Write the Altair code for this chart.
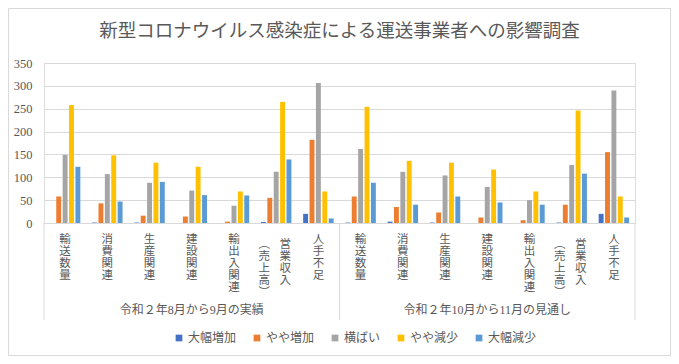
import altair as alt
import pandas as pd

title_text = "新型コロナウイルス感染症による運送事業者への影響調査"
groups = ["令和２年8月から9月の実績", "令和２年10月から11月の見通し"]
categories = ["輸送数量", "消費関連", "生産関連", "建設関連", "輸出入関連", "営業収入（売上高）", "人手不足"]
series = ["大幅増加", "やや増加", "横ばい", "やや減少", "大幅減少"]
colors = ["#4472C4", "#ED7D31", "#A5A5A5", "#FFC000", "#5B9BD5"]

# 令和２年8月から9月の実績
g1_dai_zou = [0, 1, 1, 0, 0, 2, 20]
g1_yaya_zou = [58, 43, 16, 14, 3, 55, 182]
g1_yokobai = [149, 107, 88, 71, 38, 112, 306]
g1_yaya_gen = [258, 148, 132, 123, 69, 265, 69]
g1_dai_gen = [123, 47, 90, 61, 60, 139, 10]

# 令和２年10月から11月の見通し
g2_dai_zou = [1, 3, 1, 0, 0, 1, 20]
g2_yaya_zou = [58, 35, 23, 12, 6, 40, 155]
g2_yokobai = [162, 112, 104, 79, 50, 127, 290]
g2_yaya_gen = [254, 136, 132, 117, 69, 246, 58]
g2_dai_gen = [88, 40, 58, 45, 40, 108, 12]

group_values = [
    [g1_dai_zou, g1_yaya_zou, g1_yokobai, g1_yaya_gen, g1_dai_gen],
    [g2_dai_zou, g2_yaya_zou, g2_yokobai, g2_yaya_gen, g2_dai_gen],
]

def key(gi, cat):
    return f"{gi}|{cat}"

keys = [key(gi, c) for gi in range(len(groups)) for c in categories]

rows = []
for gi, g in enumerate(groups):
    for si, s in enumerate(series):
        for ci, c in enumerate(categories):
            rows.append({"key": key(gi, c), "group": g, "category": c,
                         "series": s, "value": group_values[gi][si][ci]})
df = pd.DataFrame(rows)

# vertical (tategaki) label columns
def vert(t):
    return "\n".join(list(t))

main_cols, right_cols, left_cols = [], [], []
for gi in range(len(groups)):
    for c in categories:
        if "（" in c:
            head, rest = c.split("（")
            right_cols.append({"key": key(gi, c), "text": vert(head)})
            left_cols.append({"key": key(gi, c), "text": vert("︵" + rest.rstrip("）") + "︶")})
        else:
            main_cols.append({"key": key(gi, c), "text": vert(c)})
main_df = pd.DataFrame(main_cols)
right_df = pd.DataFrame(right_cols)
left_df = pd.DataFrame(left_cols)

group_df = pd.DataFrame([{"key": key(gi, categories[3]), "text": g} for gi, g in enumerate(groups)])
sep_start_df = pd.DataFrame([{"key": key(gi, categories[0])} for gi in range(len(groups))])
sep_end_df = pd.DataFrame([{"key": key(len(groups) - 1, categories[-1])}])

W, H = 591, 160
TXT = "#595959"
GRID = "#D9D9D9"
FONT = "Liberation Serif, Noto Sans CJK JP"

xscale = alt.Scale(domain=keys, paddingInner=0, paddingOuter=0)

bars = alt.Chart(df).mark_bar().encode(
    x=alt.X("key:N", scale=xscale,
            axis=alt.Axis(labels=False, ticks=False, domainColor=GRID, grid=False, title=None)),
    xOffset=alt.XOffset("series:N", sort=series,
                        scale=alt.Scale(domain=series, paddingInner=0.23, paddingOuter=0.92)),
    y=alt.Y("value:Q", scale=alt.Scale(domain=[0, 350], nice=False),
            axis=alt.Axis(values=[0, 50, 100, 150, 200, 250, 300, 350], grid=True, gridColor=GRID,
                          domain=False, ticks=False, tickSize=0, labelPadding=12,
                          labelFontSize=12.5, labelColor=TXT, labelFont="Liberation Serif", title=None)),
    color=alt.Color("series:N", sort=series, scale=alt.Scale(domain=series, range=colors),
                    legend=alt.Legend(orient="none", direction="horizontal", legendX=129, legendY=269,
                                      title=None, symbolType="square", symbolSize=45,
                                      symbolStrokeWidth=0, labelFontSize=12, labelColor=TXT,
                                      labelFont=FONT, columnPadding=14, labelOffset=3)),
)

lbl_props = dict(baseline="top", align="center", fontSize=11.5, lineHeight=12,
                 lineBreak="\n", color=TXT, font=FONT)

main_lbl = alt.Chart(main_df).mark_text(**lbl_props).encode(
    x=alt.X("key:N", scale=xscale), y=alt.value(171), text="text:N")
right_lbl = alt.Chart(right_df).mark_text(dx=9, **lbl_props).encode(
    x=alt.X("key:N", scale=xscale), y=alt.value(176), text="text:N")
left_lbl = alt.Chart(left_df).mark_text(dx=-12, **lbl_props).encode(
    x=alt.X("key:N", scale=xscale), y=alt.value(176), text="text:N")

group_lbl = alt.Chart(group_df).mark_text(baseline="middle", align="center", fontSize=12,
                                          color=TXT, font=FONT).encode(
    x=alt.X("key:N", scale=xscale), y=alt.value(247), text="text:N")

sep1 = alt.Chart(sep_start_df).mark_rule(color=GRID, strokeWidth=1).encode(
    x=alt.X("key:N", scale=xscale, bandPosition=0), y=alt.value(H), y2=alt.value(257))
sep2 = alt.Chart(sep_end_df).mark_rule(color=GRID, strokeWidth=1).encode(
    x=alt.X("key:N", scale=xscale, bandPosition=1), y=alt.value(H), y2=alt.value(257))

frame = alt.Chart(pd.DataFrame({"f": [0]})).mark_rect(fillOpacity=0, stroke=GRID, strokeWidth=1).encode(
    x=alt.value(-35.5), x2=alt.value(W + 35.5), y=alt.value(-54.5), y2=alt.value(H + 132.5))

chart = alt.layer(frame, bars, sep1, sep2, main_lbl, right_lbl, left_lbl, group_lbl).properties(
    width=W, height=H,
    autosize=alt.AutoSizeParams(type="none"),
    padding={"left": 36, "top": 55, "right": 36, "bottom": 133},
    title=alt.TitleParams(title_text, fontSize=18.5, color=TXT, font="Noto Sans CJK JP",
                          fontWeight="normal", anchor="middle", frame="group", offset=-32),
).configure_view(stroke=None).configure(font=FONT)

chart.save("out.html", embed_options={"renderer": "svg", "actions": False})
